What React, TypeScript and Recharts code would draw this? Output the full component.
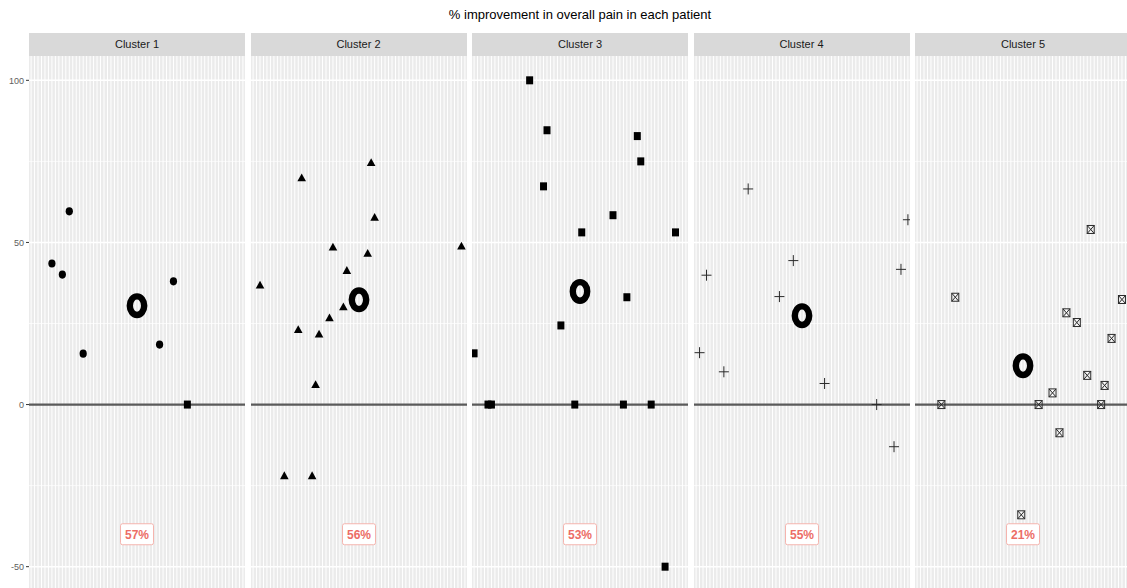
import React from "react";
import {
  ScatterChart,
  Scatter,
  XAxis,
  YAxis,
  CartesianGrid,
  ReferenceLine,
} from "recharts";

// ---- data -------------------------------------------------------------
type Pt = { x: number; y: number };

// patient index on the shared x axis, % improvement on y
const cluster1: Pt[] = [
  { x: 7, y: 43.5 },
  { x: 10, y: 40.1 },
  { x: 12, y: 59.6 },
  { x: 16, y: 15.7 },
  { x: 38, y: 18.5 },
  { x: 42, y: 38 },
];
const cluster1Square: Pt[] = [{ x: 46, y: 0 }];

const cluster2: Pt[] = [
  { x: 35, y: 74.7 },
  { x: 15, y: 70 },
  { x: 36, y: 57.8 },
  { x: 24, y: 48.6 },
  { x: 34, y: 46.7 },
  { x: 61, y: 48.9 },
  { x: 28, y: 41.4 },
  { x: 3, y: 36.9 },
  { x: 27, y: 30.2 },
  { x: 23, y: 26.8 },
  { x: 14, y: 23.2 },
  { x: 20, y: 21.8 },
  { x: 19, y: 6.2 },
  { x: 10, y: -21.9 },
  { x: 18, y: -21.9 },
];

const cluster3: Pt[] = [
  { x: 17, y: 100 },
  { x: 22, y: 84.6 },
  { x: 48, y: 82.8 },
  { x: 49, y: 75 },
  { x: 21, y: 67.3 },
  { x: 41, y: 58.4 },
  { x: 32, y: 53.1 },
  { x: 59, y: 53.1 },
  { x: 45, y: 33.1 },
  { x: 26, y: 24.4 },
  { x: 1, y: 15.8 },
  { x: 5, y: 0 },
  { x: 6, y: 0 },
  { x: 30, y: 0 },
  { x: 44, y: 0 },
  { x: 52, y: 0 },
  { x: 56, y: -50 },
];

const cluster4: Pt[] = [
  { x: 16, y: 66.5 },
  { x: 62, y: 57 },
  { x: 29, y: 44.4 },
  { x: 4, y: 39.9 },
  { x: 60, y: 41.7 },
  { x: 25, y: 33.3 },
  { x: 2, y: 16 },
  { x: 9, y: 10.1 },
  { x: 38, y: 6.5 },
  { x: 53, y: 0 },
  { x: 58, y: -13 },
];

const cluster5: Pt[] = [
  { x: 51, y: 54 },
  { x: 12, y: 33.1 },
  { x: 60, y: 32.4 },
  { x: 44, y: 28.3 },
  { x: 47, y: 25.3 },
  { x: 57, y: 20.4 },
  { x: 50, y: 9 },
  { x: 55, y: 5.9 },
  { x: 40, y: 3.6 },
  { x: 8, y: 0 },
  { x: 36, y: 0 },
  { x: 54, y: 0 },
  { x: 42, y: -8.7 },
  { x: 31, y: -34 },
];

const clusterNames = ["Cluster 1", "Cluster 2", "Cluster 3", "Cluster 4", "Cluster 5"];
const clusterMeans = [30.5, 32.3, 34.9, 27.4, 12];
const improvedShare = ["57%", "56%", "53%", "55%", "21%"];
const shareLabelY = -40;

const patientCount = 62;
const patientTicks = Array.from({ length: patientCount }, (_, i) => i + 1);
const centerPatient = (patientCount + 1) / 2;

const yTicks = [-50, 0, 50, 100];
const yMinorTicks = [-25, 25, 75];
const yMajorGrid = [-50, 50, 100];

// ---- layout -----------------------------------------------------------
const AXIS_W = 29;
const PANEL_W = 216;
const PANEL_STEP = 221.5;
const STRIP_TOP = 33;
const STRIP_H = 23;
const PANEL_TOP = STRIP_TOP + STRIP_H;
const PANEL_H = 535;
const X_DOMAIN: [number, number] = [0.4, patientCount + 0.6];
const Y_DOMAIN: [number, number] = [-57.5, 107.5];

const FONT = "'Liberation Sans', Arial, Helvetica, sans-serif";
const NARROW = "'Liberation Sans Narrow', 'Liberation Sans', Arial, sans-serif";
const LABEL_RED = "#ec6d66";

// ---- point shapes -----------------------------------------------------
const Dot = (p: any) => <ellipse cx={p.cx} cy={p.cy} rx={3.6} ry={4.1} fill="#000" />;
const Tri = (p: any) => (
  <polygon
    points={`${p.cx - 4.3},${p.cy + 3.6} ${p.cx + 4.3},${p.cy + 3.6} ${p.cx},${p.cy - 4.2}`}
    fill="#000"
  />
);
const Sq = (p: any) => <rect x={p.cx - 3.5} y={p.cy - 4} width={7} height={8} fill="#000" />;
const Plus = (p: any) => (
  <path
    d={`M${p.cx - 5},${p.cy}H${p.cx + 5}M${p.cx},${p.cy - 5.5}V${p.cy + 5.5}`}
    stroke="#2b2b2b"
    strokeWidth={1}
    fill="none"
  />
);
const BoxX = (p: any) => (
  <g stroke="#2b2b2b" strokeWidth={1} fill="none">
    <rect x={p.cx - 3.5} y={p.cy - 4} width={7} height={8} />
    <path d={`M${p.cx - 3.5},${p.cy - 4}L${p.cx + 3.5},${p.cy + 4}M${p.cx + 3.5},${p.cy - 4}L${p.cx - 3.5},${p.cy + 4}`} />
  </g>
);
const Ring = (p: any) => (
  <ellipse cx={p.cx} cy={p.cy} rx={7.2} ry={9.3} fill="none" stroke="#000" strokeWidth={6.4} />
);
const ShareLabel = (p: any) => (
  <g>
    <rect
      x={p.cx - 16.5}
      y={p.cy - 10.5}
      width={33}
      height={21}
      rx={2}
      fill="#fff"
      stroke="#f5b4ae"
      strokeWidth={1}
    />
    <text
      x={p.cx}
      y={p.cy + 4.3}
      textAnchor="middle"
      fontSize={12}
      fontWeight="bold"
      fontFamily={FONT}
      fill={LABEL_RED}
    >
      {p.payload.text}
    </text>
  </g>
);

// one white line per patient, placed through the x axis scale
const patientLines = ({ xAxis, offset }: any) => {
  if (xAxis && typeof xAxis.scale === "function") {
    return patientTicks.map((t) => xAxis.scale(t));
  }
  const span = X_DOMAIN[1] - X_DOMAIN[0];
  return patientTicks.map((t) => offset.left + ((t - X_DOMAIN[0]) / span) * offset.width);
};

type PanelDef = { series: { data: Pt[]; shape: (p: any) => React.ReactElement }[] };

const panels: PanelDef[] = [
  { series: [{ data: cluster1, shape: Dot }, { data: cluster1Square, shape: Sq }] },
  { series: [{ data: cluster2, shape: Tri }] },
  { series: [{ data: cluster3, shape: Sq }] },
  { series: [{ data: cluster4, shape: Plus }] },
  { series: [{ data: cluster5, shape: BoxX }] },
];

function Panel({ index, def }: { index: number; def: PanelDef }) {
  const withAxis = index === 0;
  const left = withAxis ? 0 : AXIS_W + index * PANEL_STEP;
  const width = withAxis ? AXIS_W + PANEL_W : PANEL_W;
  const meanData = [{ x: centerPatient, y: clusterMeans[index] }];
  const labelData = [{ x: centerPatient, y: shareLabelY, text: improvedShare[index] }];
  return (
    <div style={{ position: "absolute", left, top: PANEL_TOP, width, height: PANEL_H }}>
      <ScatterChart width={width} height={PANEL_H} margin={{ top: 0, right: 0, bottom: 0, left: 0 }}>
        <CartesianGrid
          horizontal={false}
          vertical
          verticalCoordinatesGenerator={patientLines}
          stroke="#ffffff"
          strokeWidth={1}
          fill="#ebebeb"
          fillOpacity={1}
        />
        <XAxis
          type="number"
          dataKey="x"
          domain={X_DOMAIN}
          ticks={patientTicks}
          interval={0}
          allowDataOverflow
          height={0}
          tick={false}
          tickLine={false}
          axisLine={false}
        />
        <YAxis
          type="number"
          dataKey="y"
          domain={Y_DOMAIN}
          ticks={yTicks}
          interval={0}
          allowDataOverflow
          hide={!withAxis}
          width={AXIS_W}
          axisLine={false}
          tickSize={3}
          tickMargin={2}
          tickLine={{ stroke: "#333333" }}
          tick={{ fontSize: 9, fill: "#5e5e5e", fontFamily: FONT }}
        />
        {yMinorTicks.map((v) => (
          <ReferenceLine key={`mn${v}`} y={v} stroke="#ffffff" strokeWidth={0.7} />
        ))}
        {yMajorGrid.map((v) => (
          <ReferenceLine key={`mj${v}`} y={v} stroke="#ffffff" strokeWidth={1.4} />
        ))}
        <ReferenceLine y={0} stroke="#5a5a5a" strokeWidth={2.2} />
        {def.series.map((s, i) => (
          <Scatter key={i} data={s.data} shape={s.shape} isAnimationActive={false} />
        ))}
        <Scatter data={meanData} shape={Ring} isAnimationActive={false} />
        <Scatter data={labelData} shape={ShareLabel} isAnimationActive={false} />
      </ScatterChart>
    </div>
  );
}

export default function App() {
  return (
    <div
      style={{
        position: "absolute",
        left: 0,
        top: 0,
        width: 1127,
        height: 588,
        overflow: "hidden",
        background: "#ffffff",
        fontFamily: FONT,
      }}
    >
      <div
        style={{
          position: "absolute",
          left: AXIS_W,
          width: 4 * PANEL_STEP + PANEL_W,
          top: 7,
          textAlign: "center",
          fontSize: 13,
          color: "#000",
          lineHeight: "16px",
        }}
      >
        % improvement in overall pain in each patient
      </div>
      {clusterNames.map((name, i) => (
        <div
          key={name}
          style={{
            position: "absolute",
            left: AXIS_W + i * PANEL_STEP,
            top: STRIP_TOP,
            width: PANEL_W,
            height: STRIP_H,
            background: "#d9d9d9",
            color: "#1a1a1a",
            fontFamily: NARROW,
            fontSize: 11,
            lineHeight: `${STRIP_H}px`,
            textAlign: "center",
          }}
        >
          {name}
        </div>
      ))}
      {panels.map((def, i) => (
        <Panel key={i} index={i} def={def} />
      ))}
    </div>
  );
}
